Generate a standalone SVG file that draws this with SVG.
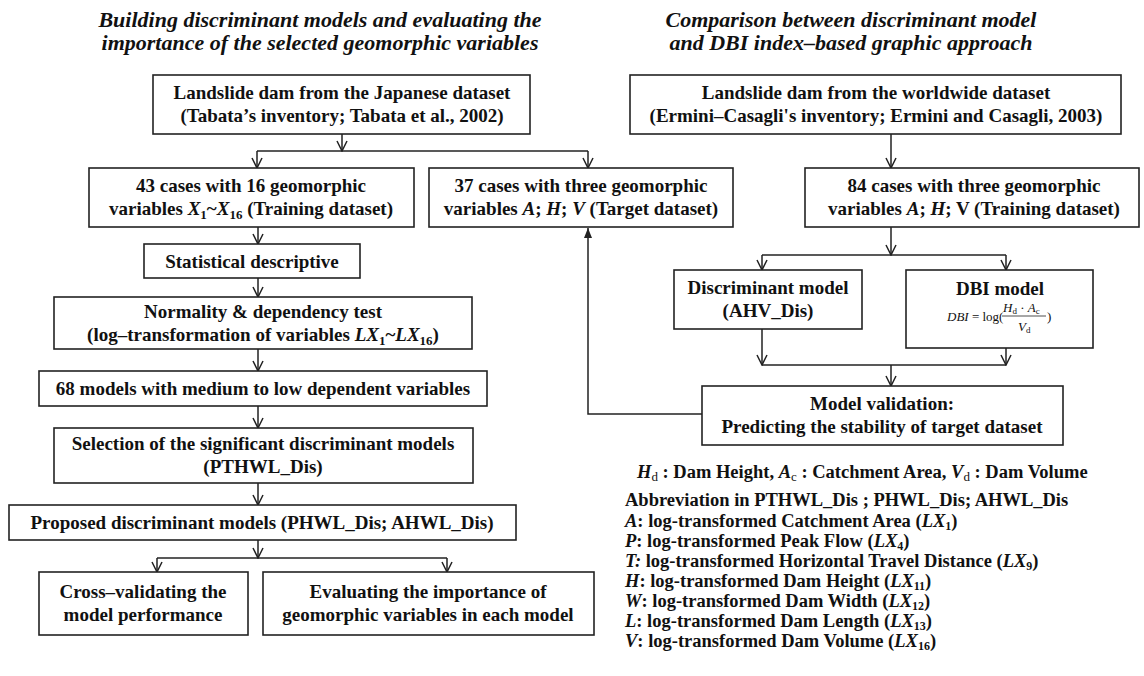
<svg xmlns="http://www.w3.org/2000/svg" width="1144" height="676" viewBox="0 0 1144 676">
<defs>
<style>
.t{font-family:"Liberation Serif","Times New Roman",serif;font-weight:bold;font-size:19px;fill:#111;text-anchor:middle}
.ttl{font-family:"Liberation Serif","Times New Roman",serif;font-weight:bold;font-style:italic;font-size:22px;fill:#111;text-anchor:middle}
.lg{font-family:"Liberation Serif","Times New Roman",serif;font-weight:bold;font-size:18.5px;fill:#111}
.f{font-family:"Liberation Serif","Times New Roman",serif;font-size:13px;fill:#111}
.i{font-style:italic}
.sb{font-size:12px}
.box{fill:#fff;stroke:#222;stroke-width:1.6}
.ln{fill:none;stroke:#222;stroke-width:1.5}
.ar{fill:none;stroke:#222;stroke-width:1.5;marker-end:url(#open)}
</style>
<marker id="open" viewBox="-11 -6 12 12" refX="0" refY="0" markerWidth="12" markerHeight="12" markerUnits="userSpaceOnUse" orient="auto">
<path d="M-10,-5 L0,0 L-10,5" fill="none" stroke="#222" stroke-width="1.5"/>
</marker>
<marker id="solid" viewBox="-11 -6 12 12" refX="0" refY="0" markerWidth="12" markerHeight="12" markerUnits="userSpaceOnUse" orient="auto">
<path d="M-10,-4 L0,0 L-10,4 Z" fill="#222"/>
</marker>
</defs>
<rect width="1144" height="676" fill="#fff"/>

<g id="titles">
<text class="ttl" x="320" y="27">Building discriminant models and evaluating the</text>
<text class="ttl" x="320" y="50">importance of the selected geomorphic variables</text>
<text class="ttl" x="851" y="27">Comparison between discriminant model</text>
<text class="ttl" x="851" y="50">and DBI index–based graphic approach</text>
</g>

<g id="connectors">
<path class="ar" d="M342,134 V151"/>
<path class="ln" d="M257,151 H588"/>
<path class="ar" d="M257,151 V168"/>
<path class="ar" d="M588,151 V168"/>
<path class="ar" d="M258,227 V244"/>
<path class="ar" d="M258,278 V297"/>
<path class="ar" d="M258,349 V371"/>
<path class="ar" d="M258,406 V428"/>
<path class="ar" d="M258,483 V505"/>
<path class="ar" d="M258,540 V558"/>
<path class="ln" d="M157,558 H447"/>
<path class="ar" d="M157,558 V572"/>
<path class="ar" d="M447,558 V572"/>
<path class="ar" d="M891,134 V168"/>
<path class="ar" d="M891,227 V255"/>
<path class="ln" d="M762,255 H1006"/>
<path class="ar" d="M762,255 V270"/>
<path class="ar" d="M1006,255 V270"/>
<path class="ar" d="M762,329 V365"/>
<path class="ar" d="M1006,348 V365"/>
<path class="ln" d="M762,365 H1006"/>
<path class="ar" d="M891,365 V386"/>
<path class="ln" d="M702,414 H588 V228" marker-end="url(#solid)"/>
</g>

<g id="n-japan">
<rect class="box" x="153" y="75" width="377" height="59"/>
<text class="t" x="342" y="99">Landslide dam from the Japanese dataset</text>
<text class="t" x="342" y="122">(Tabata’s inventory; Tabata et al., 2002)</text>
</g>

<g id="n-world">
<rect class="box" x="630" y="75" width="491" height="59"/>
<text class="t" x="876" y="99">Landslide dam from the worldwide dataset</text>
<text class="t" x="876" y="122">(Ermini–Casagli's inventory; Ermini and Casagli, 2003)</text>
</g>

<g id="n-43">
<rect class="box" x="89" y="168" width="325" height="59"/>
<text class="t" x="251" y="192">43 cases with 16 geomorphic</text>
<text class="t" x="251" y="215">variables <tspan class="i">X</tspan><tspan font-size="13" dy="4">1</tspan><tspan dy="-4">~</tspan><tspan class="i">X</tspan><tspan font-size="13" dy="4">16</tspan><tspan dy="-4"> (Training dataset)</tspan></text>
</g>

<g id="n-37">
<rect class="box" x="429" y="168" width="304" height="59"/>
<text class="t" x="581" y="192">37 cases with three geomorphic</text>
<text class="t" x="581" y="215">variables <tspan class="i">A</tspan>; <tspan class="i">H</tspan>; <tspan class="i">V</tspan> (Target dataset)</text>
</g>

<g id="n-84">
<rect class="box" x="805" y="168" width="334" height="59"/>
<text class="t" x="974" y="192">84 cases with three geomorphic</text>
<text class="t" x="974" y="215">variables <tspan class="i">A</tspan>; <tspan class="i">H</tspan>; V (Training dataset)</text>
</g>

<g id="n-stat">
<rect class="box" x="144" y="244" width="216" height="34"/>
<text class="t" x="252" y="268">Statistical descriptive</text>
</g>

<g id="n-norm">
<rect class="box" x="54" y="297" width="418" height="52"/>
<text class="t" x="263" y="318">Normality &amp; dependency test</text>
<text class="t" x="263" y="341">(log–transformation of variables <tspan class="i">LX</tspan><tspan font-size="13" dy="4">1</tspan><tspan dy="-4">~</tspan><tspan class="i">LX</tspan><tspan font-size="13" dy="4">16</tspan><tspan dy="-4">)</tspan></text>
</g>

<g id="n-68">
<rect class="box" x="39" y="371" width="448" height="35"/>
<text class="t" x="263" y="395">68 models with medium to low dependent variables</text>
</g>

<g id="n-sel">
<rect class="box" x="54" y="428" width="419" height="55"/>
<text class="t" x="263" y="450">Selection of the significant discriminant models</text>
<text class="t" x="263" y="473">(PTHWL_Dis)</text>
</g>

<g id="n-prop">
<rect class="box" x="9" y="505" width="507" height="35"/>
<text class="t" x="262" y="529">Proposed discriminant models (PHWL_Dis; AHWL_Dis)</text>
</g>

<g id="n-cross">
<rect class="box" x="39" y="572" width="209" height="63"/>
<text class="t" x="143" y="598">Cross–validating the</text>
<text class="t" x="143" y="621">model performance</text>
</g>

<g id="n-eval">
<rect class="box" x="263" y="572" width="331" height="63"/>
<text class="t" x="428" y="598">Evaluating the importance of</text>
<text class="t" x="428" y="621">geomorphic variables in each model</text>
</g>

<g id="n-disc">
<rect class="box" x="674" y="270" width="188" height="59"/>
<text class="t" x="768" y="294">Discriminant model</text>
<text class="t" x="768" y="317">(AHV_Dis)</text>
</g>

<g id="n-dbi">
<rect class="box" x="906" y="270" width="187" height="78"/>
<text class="t" x="1000" y="295">DBI model</text>
<text class="f" x="947" y="321"><tspan class="i">DBI</tspan> = log(</text>
<text class="f i" x="1003" y="312">H<tspan font-size="9" dy="2" font-style="normal">d</tspan><tspan dy="-2" font-style="normal"> · </tspan>A<tspan font-size="9" dy="2" font-style="normal">c</tspan></text>
<path d="M1002,316 H1046" stroke="#222" stroke-width="0.8"/>
<text class="f i" x="1018" y="331">V<tspan font-size="9" dy="2" font-style="normal">d</tspan></text>
<text class="f" x="1047" y="321">)</text>
</g>

<g id="n-valid">
<rect class="box" x="702" y="386" width="361" height="59"/>
<text class="t" x="882" y="410">Model validation:</text>
<text class="t" x="882" y="433">Predicting the stability of target dataset</text>
</g>

<g id="legend">
<text class="lg" x="637" y="478"><tspan class="i">H</tspan><tspan font-size="13" dy="3" font-weight="normal">d</tspan><tspan dy="-3"> : Dam Height, </tspan><tspan class="i">A</tspan><tspan font-size="13" dy="3" font-weight="normal">c</tspan><tspan dy="-3"> : Catchment Area, </tspan><tspan class="i">V</tspan><tspan font-size="13" dy="3" font-weight="normal">d</tspan><tspan dy="-3"> : Dam Volume</tspan></text>
<text class="lg" x="625" y="506">Abbreviation in PTHWL_Dis ; PHWL_Dis; AHWL_Dis</text>
<text class="lg" x="625" y="527"><tspan class="i">A</tspan>: log-transformed Catchment Area (<tspan class="i">LX</tspan><tspan class="sb" dy="3">1</tspan><tspan dy="-3">)</tspan></text>
<text class="lg" x="625" y="547"><tspan class="i">P</tspan>: log-transformed Peak Flow (<tspan class="i">LX</tspan><tspan class="sb" dy="3">4</tspan><tspan dy="-3">)</tspan></text>
<text class="lg" x="625" y="567"><tspan class="i">T:</tspan> log-transformed Horizontal Travel Distance (<tspan class="i">LX</tspan><tspan class="sb" dy="3">9</tspan><tspan dy="-3">)</tspan></text>
<text class="lg" x="625" y="587"><tspan class="i">H</tspan>: log-transformed Dam Height (<tspan class="i">LX</tspan><tspan class="sb" dy="3">11</tspan><tspan dy="-3">)</tspan></text>
<text class="lg" x="625" y="607"><tspan class="i">W</tspan>: log-transformed Dam Width (<tspan class="i">LX</tspan><tspan class="sb" dy="3">12</tspan><tspan dy="-3">)</tspan></text>
<text class="lg" x="625" y="627"><tspan class="i">L</tspan>: log-transformed Dam Length (<tspan class="i">LX</tspan><tspan class="sb" dy="3">13</tspan><tspan dy="-3">)</tspan></text>
<text class="lg" x="625" y="647"><tspan class="i">V</tspan>: log-transformed Dam Volume (<tspan class="i">LX</tspan><tspan class="sb" dy="3">16</tspan><tspan dy="-3">)</tspan></text>
</g>
</svg>
